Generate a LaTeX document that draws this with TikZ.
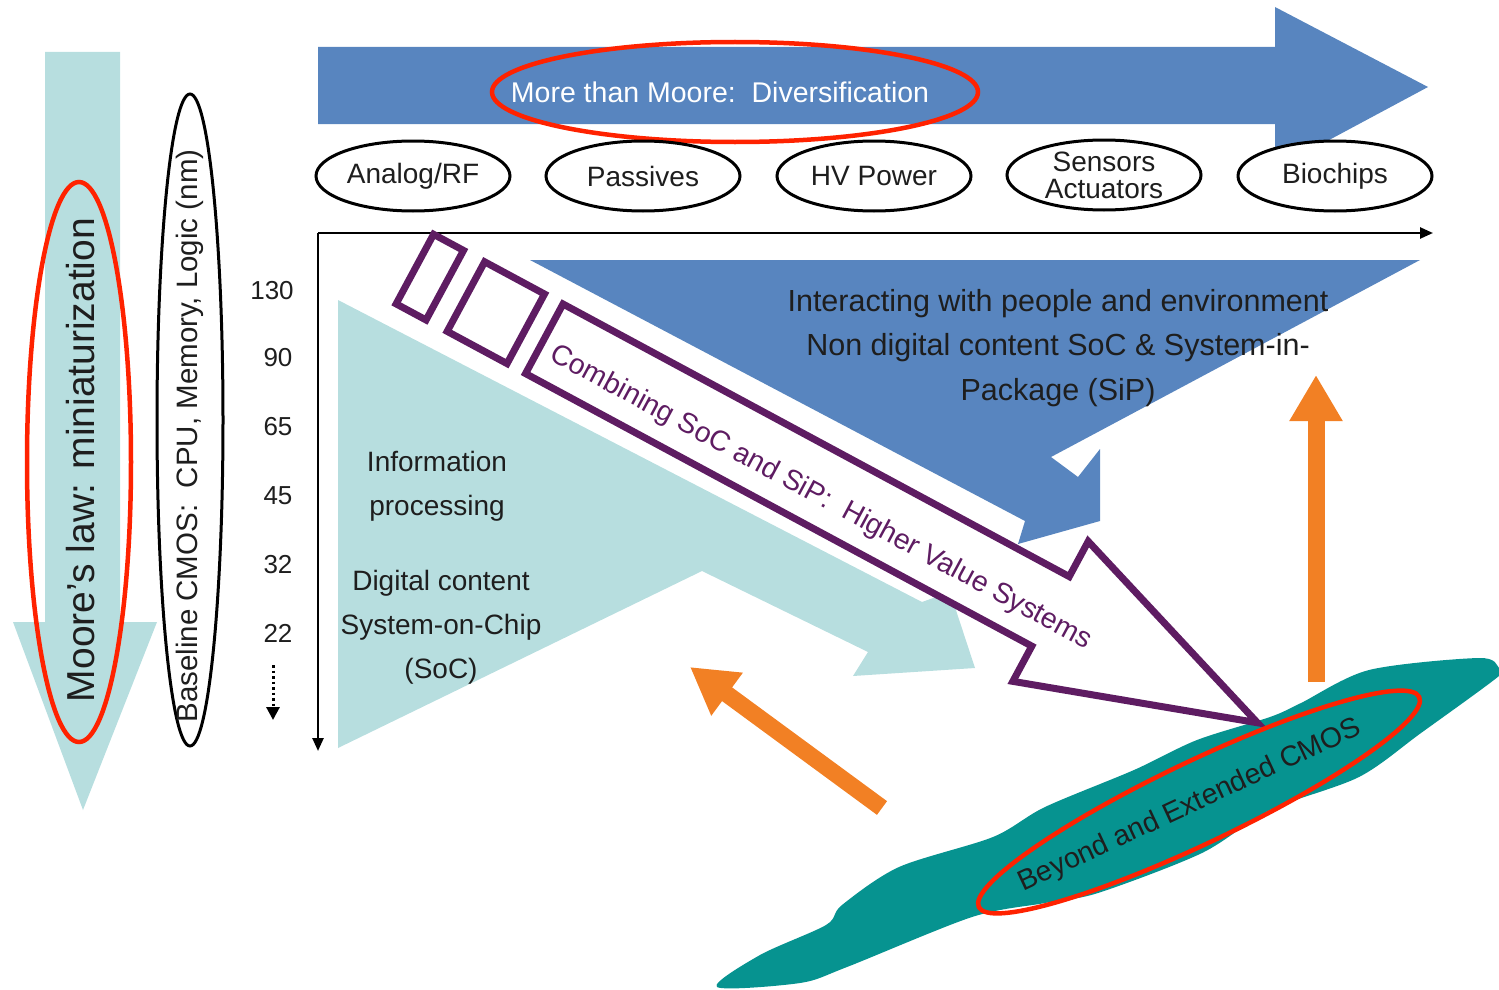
\documentclass[tikz,border=0pt]{standalone}
\usepackage{fontspec}
\setmainfont{Liberation Sans}
\usetikzlibrary{shapes.geometric,arrows.meta}
\definecolor{mblue}{RGB}{88,133,191}
\definecolor{mcyan}{RGB}{183,222,223}
\definecolor{mteal}{RGB}{6,147,144}
\definecolor{morange}{RGB}{242,128,36}
\definecolor{mred}{RGB}{255,34,0}
\definecolor{mpurple}{RGB}{94,28,98}
\definecolor{mtext}{RGB}{30,30,30}
\begin{document}
\begin{tikzpicture}[x=1pt,y=-1pt,
  cat/.style={draw=black, line width=3pt, fill=white, ellipse, minimum width=194pt, minimum height=70pt, inner sep=0pt, font=\fontsize{28}{27}\selectfont, text=mtext, align=center},
  redring/.style={draw=mred, line width=4.5pt, ellipse, inner sep=0pt},
  num/.style={font=\fontsize{26}{26}\selectfont, text=mtext},
  body/.style={font=\fontsize{28}{44}\selectfont, text=mtext, align=center},
  axis/.style={draw=black, line width=2.5pt, -{Triangle[length=13pt,width=11pt]}},
  orangearrow/.style={draw=morange, line width=17pt, -{Triangle[length=46pt,width=50pt]}},
  purpleline/.style={draw=mpurple, line width=7pt, line join=miter},
]
\useasboundingbox (0,0) rectangle (1499,990);

% left cyan arrow
\fill[mcyan] (45,52) -- (120,52) -- (120,622) -- (157,622) -- (83,810) -- (13,622) -- (45,622) -- cycle;
\node[rotate=90, font=\fontsize{39}{39}\selectfont, text=mtext] (moore) at (81,460) {Moore's law: miniaturization};
\node[redring, minimum width=104pt, minimum height=560pt] (mooreRing) at (79,462) {};

% baseline CMOS ellipse
\node[draw=black, line width=3pt, ellipse, minimum width=66pt, minimum height=652pt, inner sep=0pt] (baseRing) at (190,420) {};
\node[rotate=90, font=\fontsize{29.5}{29.5}\selectfont, text=mtext] (baseline) at (190,436) {Baseline CMOS:\ \ CPU, Memory, Logic (nm)};

% node sizes
\node[num] (n130) at (272,291) {130};
\node[num] (n90) at (278,358) {90};
\node[num] (n65) at (278,427) {65};
\node[num] (n45) at (278,496) {45};
\node[num] (n32) at (278,565) {32};
\node[num] (n22) at (278,633) {22};
\coordinate (dotA) at (273,665);
\coordinate (dotB) at (273,720);
\draw[black, line width=3pt, dash pattern=on 2.5pt off 3pt, -{Triangle[length=13pt,width=13pt]}] (dotA) -- (dotB);

% top blue arrow
\fill[mblue] (318,47) -- (1275,47) -- (1275,7) -- (1428,87) -- (1275,169) -- (1275,124) -- (318,124) -- cycle;
\node[font=\fontsize{28.5}{28.5}\selectfont, text=white] (mtm) at (720,92) {More than Moore:\ \ Diversification};
\node[redring, minimum width=486pt, minimum height=100pt] (mtmRing) at (735,92) {};

% category ellipses
\node[cat] (analog) at (413,176) {Analog/RF};
\node[cat] (passives) at (643,176) {Passives};
\node[cat] (hv) at (874,176) {HV Power};
\node[cat] (sensors) at (1104,175) {Sensors\\Actuators};
\node[cat] (bio) at (1335,176) {Biochips};

% axes
\coordinate (O) at (318,233);
\coordinate (xend) at (1433,233);
\coordinate (yend) at (318,751);
\draw[axis] (O) -- (xend);
\draw[axis] (O) -- (yend);

% cyan SoC region
\fill[mcyan] (338,300) -- (922,602) -- (950,592) -- (975,668) -- (853,676) -- (868,652) -- (702,571) -- (338,748) -- cycle;
% blue SiP region
\fill[mblue] (530,260) -- (1420,260) -- (1051,457) -- (1078,477) -- (1100,449) -- (1100,521) -- (1018,544) -- (1025,521) -- cycle;

\node[body, font=\fontsize{30.5}{44.5}\selectfont] (interact) at (1058,348) {Interacting with people and environment\\Non digital content SoC \& System-in-\\Package (SiP)};
\node[body] (info) at (437,486) {Information\\processing};
\node[body] (digital) at (441,627) {Digital content\\System-on-Chip\\(SoC)};

% orange arrows
\coordinate (oLtail) at (882,808);
\coordinate (oLtip) at (690,667);
\coordinate (oRtail) at (1316,682);
\coordinate (oRtip) at (1316,375);
\draw[orangearrow] (oLtail) -- (oLtip);
\draw[orangearrow] (oRtail) -- (oRtip);

% teal blob
\fill[mteal] plot[smooth cycle, tension=0.5] coordinates {
 (717,987) (760,955) (826,925) (842,905) (899,867) (993,837) (1045,807) (1134,770)
 (1197,740) (1270,717) (1301,703) (1369,670) (1479,658) (1499,668)
 (1499,676) (1421,733) (1359,777) (1270,810) (1202,853) (1098,893) (1045,903)
 (972,917) (847,967) (800,983)};

% purple combining arrow
\begin{scope}[shift={(563,304)}, rotate=-28.3]
  \draw[purpleline, fill=white] (0,0) -- (575,0) -- (575,-40) -- (810,39.5) -- (575,119) -- (575,79) -- (0,79) -- cycle;
  \draw[purpleline] (-147,0) rectangle (-113,79);
  \draw[purpleline] (-89,0) rectangle (-21,79);
\end{scope}
\node[rotate=-28.3, font=\fontsize{28.5}{28.5}\selectfont, text=mpurple] (combine) at (821,498) {Combining SoC and SiP:\ \ Higher Value Systems};

% beyond CMOS
\node[rotate=25, font=\fontsize{28.5}{28.5}\selectfont, text=mtext] (beyond) at (1190,806) {Beyond and Extended CMOS};
\node[redring, rotate=25.5, minimum width=488pt, minimum height=82pt] (beyondRing) at (1199,802) {};
\end{tikzpicture}
\end{document}
